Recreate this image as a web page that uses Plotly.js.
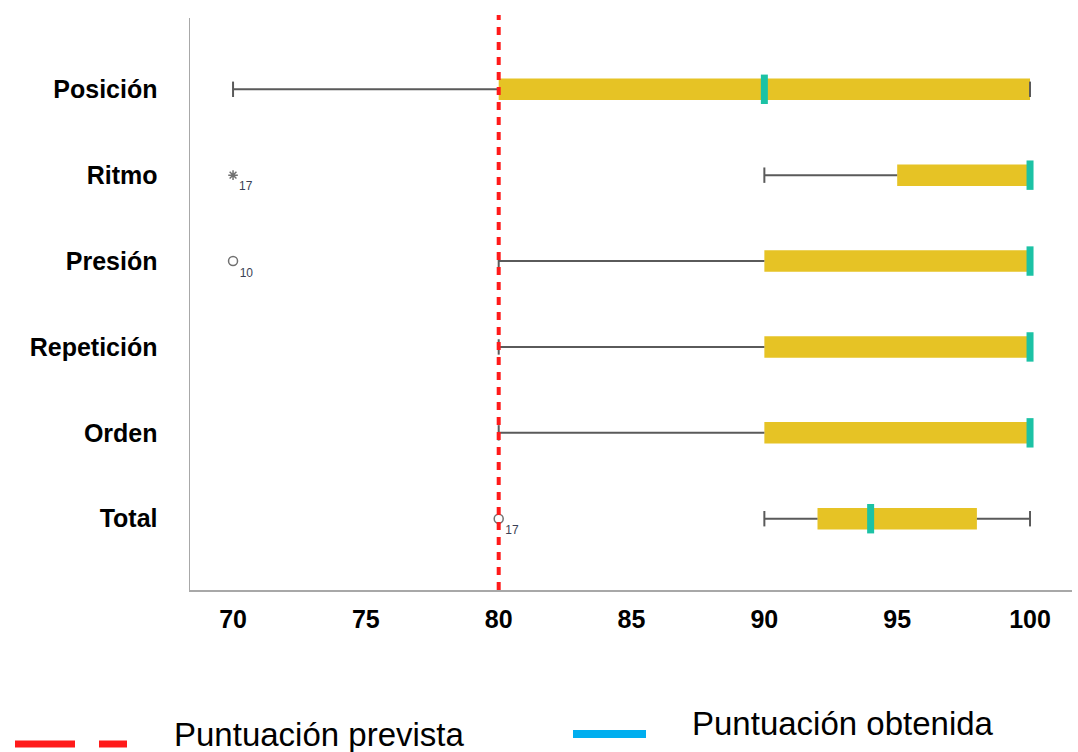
<!DOCTYPE html>
<html>
<head>
<meta charset="utf-8">
<script src="https://cdn.plot.ly/plotly-3.0.1.min.js"></script>
<style>html,body{margin:0;padding:0;background:#fff;}#chart{width:1078px;height:752px;}</style>
</head>
<body>
<div id="chart"></div>
<script>
// ---- data ----
const categories = ["Posición", "Ritmo", "Presión", "Repetición", "Orden", "Total"];
const lowerWhisker = [70, 90, 80, 80, 80, 90];
const q1 = [80, 95, 90, 90, 90, 92];
const median = [90, 100, 100, 100, 100, 94];
const q3 = [100, 100, 100, 100, 100, 98];
const upperWhisker = [100, 100, 100, 100, 100, 100];
const outlierCat = ["Ritmo", "Presión", "Total"];
const outlierVal = [70, 70, 80];
const outlierId = ["17", "10", "17"];
const outlierType = ["extreme", "mild", "mild"];
const expectedScore = 80;
const xTicks = [70, 75, 80, 85, 90, 95, 100];
const legendLabels = ["Puntuación prevista", "Puntuación obtenida"];

// ---- layout constants ----
const W = 1078, H = 752;
const M = {l: 190, r: 6, t: 18, b: 162};
const plotW = W - M.l - M.r, plotH = H - M.t - M.b;
const px = x => (x - M.l) / plotW;
const py = y => (M.t + plotH - y) / plotH;

const gold = "#E6C325", teal = "#1CC2A5", cyan = "#00AEEF", red = "#FF1A1A", whisk = "#5a5a5a";

// whisker segments
const wx = [], wy = [], capx = [], capy = [];
categories.forEach((c, i) => {
  wx.push(lowerWhisker[i], q1[i], null, q3[i], upperWhisker[i], null);
  wy.push(c, c, null, c, c, null);
  capx.push(lowerWhisker[i], upperWhisker[i]);
  capy.push(c, c);
});

const traces = [
  {type: "scatter", mode: "lines", x: wx, y: wy, line: {color: whisk, width: 2}, hoverinfo: "skip", showlegend: false},
  {type: "scatter", mode: "markers", x: capx, y: capy, marker: {symbol: "line-ns", size: 11, line: {color: whisk, width: 2}}, hoverinfo: "skip", showlegend: false},
  {type: "bar", orientation: "h", y: categories, base: q1, x: q3.map((v, i) => v - q1[i]),
   width: 0.25, marker: {color: gold, line: {width: 0}}, showlegend: false, hoverinfo: "skip"},
  {type: "scatter", mode: "markers", x: median, y: categories,
   marker: {symbol: "line-ns", size: 21, line: {color: teal, width: 7}}, showlegend: false, hoverinfo: "skip"},
  {type: "scatter", mode: "markers+text",
   x: outlierVal, y: outlierCat, text: outlierId, textposition: "bottom right",
   textfont: {family: "Liberation Sans, Arial, sans-serif", size: 12, color: "#3a3f55"},
   marker: {symbol: outlierType.map(t => t === "extreme" ? "asterisk-open" : "circle-open"),
            size: outlierType.map(t => t === "extreme" ? 8 : 9),
            color: "#333", line: {color: "#333", width: 1.5}},
   showlegend: false, hoverinfo: "skip", cliponaxis: false}
];

const layout = {
  width: W, height: H,
  margin: M,
  paper_bgcolor: "#fff", plot_bgcolor: "#fff",
  showlegend: false,
  font: {family: "Liberation Sans, Arial, sans-serif", color: "#000"},
  xaxis: {
    range: [68.38, 101.58], tickvals: xTicks, ticktext: xTicks.map(String),
    showgrid: false, zeroline: false, showline: true, linecolor: "#a8a8a8", linewidth: 1.5,
    ticks: "outside", ticklen: 6, tickcolor: "rgba(0,0,0,0)",
    tickfont: {family: "Liberation Sans, Arial, sans-serif", size: 25, color: "#000", weight: "bold"}
  },
  yaxis: {
    type: "category", categoryarray: categories, range: [5.83, -0.83],
    showgrid: false, zeroline: false, showline: true, linecolor: "#a8a8a8", linewidth: 1.5,
    ticks: "outside", ticklen: 26, tickcolor: "rgba(0,0,0,0)",
    tickfont: {family: "Liberation Sans, Arial, sans-serif", size: 25, color: "#000", weight: "bold"}
  },
  shapes: [
    {type: "line", xref: "x", yref: "paper", x0: expectedScore, x1: expectedScore, y0: 0, y1: py(15),
     line: {color: red, width: 4, dash: "8px,7px"}, layer: "above"},
    // legend keys
    {type: "line", xref: "paper", yref: "paper", x0: px(15), x1: px(75), y0: py(744), y1: py(744),
     line: {color: red, width: 7}},
    {type: "line", xref: "paper", yref: "paper", x0: px(99), x1: px(127), y0: py(744), y1: py(744),
     line: {color: red, width: 7}},
    {type: "line", xref: "paper", yref: "paper", x0: px(573), x1: px(646), y0: py(734), y1: py(734),
     line: {color: cyan, width: 8}}
  ],
  annotations: [
    {xref: "paper", yref: "paper", x: px(172), y: py(734), xanchor: "left", yanchor: "middle",
     text: legendLabels[0], showarrow: false,
     font: {family: "Liberation Sans, Arial, sans-serif", size: 33, color: "#000"}},
    {xref: "paper", yref: "paper", x: px(690), y: py(723), xanchor: "left", yanchor: "middle",
     text: legendLabels[1], showarrow: false,
     font: {family: "Liberation Sans, Arial, sans-serif", size: 33, color: "#000"}}
  ]
};

Plotly.newPlot("chart", traces, layout, {displayModeBar: false, staticPlot: true});
</script>
</body>
</html>
